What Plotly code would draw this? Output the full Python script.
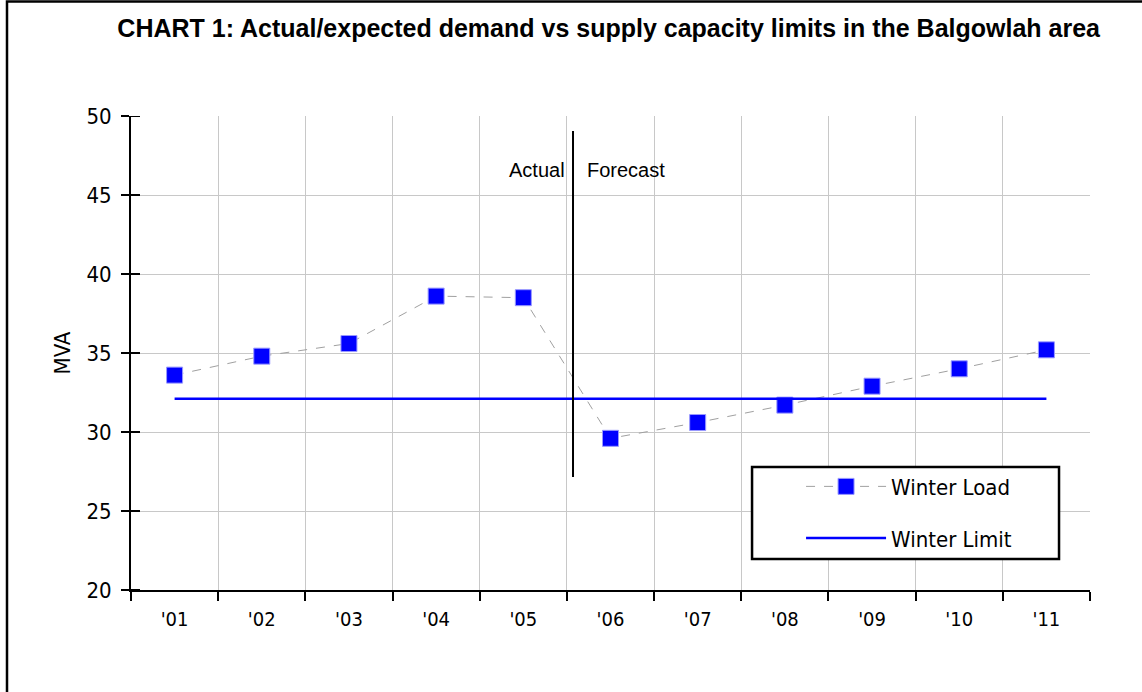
import plotly.graph_objects as go

years = ["'01", "'02", "'03", "'04", "'05", "'06", "'07", "'08", "'09", "'10", "'11"]
winter_load = [33.6, 34.8, 35.6, 38.6, 38.5, 29.6, 30.6, 31.7, 32.9, 34.0, 35.2]
winter_limit = [32.1] * 11
y_ticks = [20, 25, 30, 35, 40, 45, 50]

NARROW = "DejaVu Sans Condensed, Liberation Sans Narrow, Arial Narrow, Liberation Sans, sans-serif"
ARIAL = "Liberation Sans, Arial, sans-serif"

fig = go.Figure()
fig.add_trace(go.Scatter(
    x=years, y=winter_load, name="Winter Load", mode="lines+markers",
    line=dict(color="#a0a0a0", width=1, dash="dash"),
    marker=dict(symbol="square", size=16, color="#0000ff",
                line=dict(color="#9999ff", width=1)),
    legendgroup="a"))
fig.add_trace(go.Scatter(
    x=years, y=winter_limit, name="Winter Limit", mode="lines",
    line=dict(color="#0000ff", width=2.5), legendgroup="b"))

# inner half of the crossing y-axis tick marks
for t in y_ticks:
    fig.add_shape(type="line", xref="paper", yref="y", x0=0, x1=9 / 959, y0=t, y1=t,
                  line=dict(color="black", width=2), layer="above")

# Actual / Forecast divider
fig.add_shape(type="line", xref="x", yref="y", x0=4.57, x1=4.57, y0=27.15, y1=49.05,
              line=dict(color="black", width=2))
fig.add_annotation(x=4.57, y=46.58, xref="x", yref="y", text="Actual", showarrow=False,
                   xanchor="right", xshift=-6, font=dict(family=ARIAL, size=20, color="black"))
fig.add_annotation(x=4.57, y=46.58, xref="x", yref="y", text="Forecast", showarrow=False,
                   xanchor="left", xshift=12, font=dict(family=ARIAL, size=20, color="black"))

# outer border (only left/top visible in frame)
fig.add_shape(type="rect", xref="paper", yref="paper", x0=-0.1293, x1=1.07, y0=-0.25, y1=1.2416,
              line=dict(color="black", width=2.5), layer="below")

# legend frame
fig.add_shape(type="rect", xref="paper", yref="paper", x0=0.6476, x1=0.9677, y0=0.0654, y1=0.2595,
              line=dict(color="black", width=2.5), fillcolor="white", layer="above")

fig.update_layout(
    width=1142, height=692,
    margin=dict(l=131, r=52, t=116, b=102),
    paper_bgcolor="white", plot_bgcolor="white",
    title=dict(text="<b>CHART 1: Actual/expected demand vs supply capacity limits in the Balgowlah area</b>",
               x=0.533, xanchor="center", y=0.9595, yanchor="middle",
               font=dict(family=ARIAL, size=25, color="black")),
    showlegend=True,
    legend=dict(x=0.6987, y=0.2625, xanchor="left", yanchor="top",
                borderwidth=0, bgcolor="rgba(0,0,0,0)",
                font=dict(family=NARROW, size=22, color="black"),
                tracegroupgap=20, itemwidth=80),
    xaxis=dict(type="category", tickson="boundaries", range=[-0.5, 10.5],
               showgrid=True, gridcolor="#c8c8c8", gridwidth=1,
               showline=True, linecolor="black", linewidth=2,
               ticks="outside", ticklen=9, tickwidth=2, tickcolor="black",
               tickfont=dict(family=NARROW, size=20, color="black"), ticklabelstandoff=10),
    yaxis=dict(range=[20, 50], tickvals=y_ticks,
               showgrid=True, gridcolor="#c8c8c8", gridwidth=1,
               showline=True, linecolor="black", linewidth=2, zeroline=False,
               ticks="outside", ticklen=8, tickwidth=2, tickcolor="black",
               tickfont=dict(family=NARROW, size=22, color="black"), ticklabelstandoff=5,
               title=dict(text="MVA", font=dict(family=NARROW, size=22, color="black"), standoff=10)),
)

fig.write_html("out.html", post_script="document.body.style.margin='0px';",
               config={"displayModeBar": False})
